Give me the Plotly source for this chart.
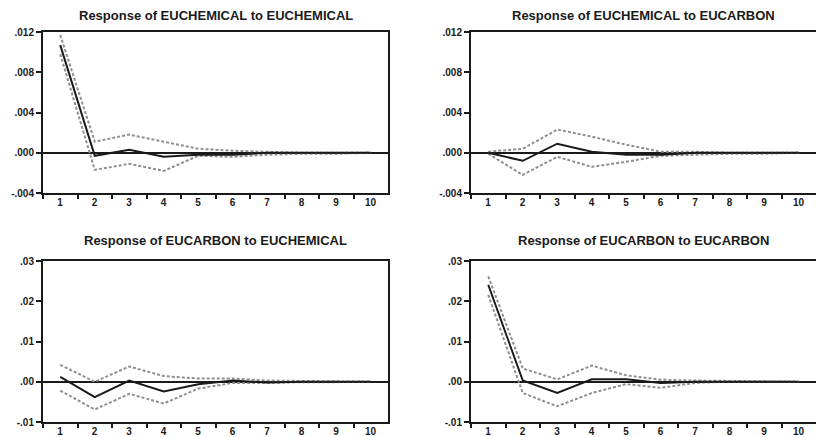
import plotly.graph_objects as go

periods = [1, 2, 3, 4, 5, 6, 7, 8, 9, 10]
period_labels = ["1", "2", "3", "4", "5", "6", "7", "8", "9", "10"]

titles = [
    "Response of EUCHEMICAL to EUCHEMICAL",
    "Response of EUCHEMICAL to EUCARBON",
    "Response of EUCARBON to EUCHEMICAL",
    "Response of EUCARBON to EUCARBON",
]

# Panel 1: EUCHEMICAL to EUCHEMICAL
chem_chem = [0.0107, -0.0003, 0.0003, -0.0004, -0.0002, -0.0002, 0.0000, 0.0000, 0.0000, 0.0000]
chem_chem_up = [0.0117, 0.0011, 0.0018, 0.0011, 0.0004, 0.0002, 0.0001, 0.0000, 0.0000, 0.0000]
chem_chem_lo = [0.0098, -0.0017, -0.0011, -0.0018, -0.0003, -0.0004, -0.0002, -0.0001, -0.0001, 0.0000]

# Panel 2: EUCHEMICAL to EUCARBON
chem_carb = [0.0000, -0.0008, 0.0009, 0.0001, -0.0002, -0.0002, 0.0000, 0.0000, 0.0000, 0.0000]
chem_carb_up = [0.0001, 0.0004, 0.0023, 0.0016, 0.0008, 0.0001, 0.0001, 0.0000, 0.0000, 0.0000]
chem_carb_lo = [-0.0001, -0.0022, -0.0004, -0.0014, -0.0009, -0.0003, -0.0002, -0.0001, -0.0001, 0.0000]

# Panel 3: EUCARBON to EUCHEMICAL
carb_chem = [0.0012, -0.0038, 0.0003, -0.0024, -0.0006, 0.0003, -0.0002, 0.0000, 0.0000, 0.0000]
carb_chem_up = [0.0042, 0.0000, 0.0038, 0.0014, 0.0008, 0.0008, 0.0003, 0.0002, 0.0002, 0.0000]
carb_chem_lo = [-0.0022, -0.0069, -0.0030, -0.0054, -0.0017, -0.0003, -0.0003, -0.0001, -0.0001, 0.0000]

# Panel 4: EUCARBON to EUCARBON
carb_carb = [0.0241, 0.0003, -0.0028, 0.0006, 0.0006, -0.0003, 0.0000, 0.0000, 0.0000, 0.0000]
carb_carb_up = [0.0262, 0.0033, 0.0006, 0.0040, 0.0016, 0.0005, 0.0003, 0.0002, 0.0002, 0.0000]
carb_carb_lo = [0.0216, -0.0028, -0.0061, -0.0028, -0.0006, -0.0015, -0.0003, 0.0000, 0.0000, 0.0000]

top_ticks = [-0.004, 0.000, 0.004, 0.008, 0.012]
top_tick_labels = ["-.004", ".000", ".004", ".008", ".012"]
bot_ticks = [-0.01, 0.00, 0.01, 0.02, 0.03]
bot_tick_labels = ["-.01", ".00", ".01", ".02", ".03"]

W, H = 816, 437
fig = go.Figure()

panels = [
    (chem_chem, chem_chem_up, chem_chem_lo, top_ticks, top_tick_labels),
    (chem_carb, chem_carb_up, chem_carb_lo, top_ticks, top_tick_labels),
    (carb_chem, carb_chem_up, carb_chem_lo, bot_ticks, bot_tick_labels),
    (carb_carb, carb_carb_up, carb_carb_lo, bot_ticks, bot_tick_labels),
]

# pixel boxes (left, right, top, bottom)
boxes = [(43, 388, 32, 193), (471, 816, 32, 193), (43, 388, 261, 422), (471, 816, 261, 422)]
title_y = [15, 15, 240, 240]

tick_font = dict(family="Liberation Sans, Arial", size=10, color="#1a1a1a", weight="bold")
unit_px = (388 - 43) / 10.0

for i, (resp, up, lo, yt, ytl) in enumerate(panels):
    n = i + 1
    xa = "x" if n == 1 else f"x{n}"
    ya = "y" if n == 1 else f"y{n}"
    for series, col, w, dash in [(up, "#8f8f8f", 2, "3px,2px"), (lo, "#8f8f8f", 2, "3px,2px"), (resp, "#1a1a1a", 2, "solid")]:
        fig.add_trace(go.Scatter(x=periods, y=series, mode="lines", xaxis=xa, yaxis=ya,
                                 line=dict(color=col, width=w, dash=dash), showlegend=False,
                                 hoverinfo="skip", cliponaxis=False))
    l, r, t, b = boxes[i]
    xdom = [l / W, min(r / W, 1.0)]
    ydom = [(H - b) / H, (H - t) / H]
    xkey = "xaxis" if n == 1 else f"xaxis{n}"
    ykey = "yaxis" if n == 1 else f"yaxis{n}"
    fig.layout[xkey] = dict(
        domain=xdom, anchor=ya, range=[0.5, 10.5], automargin=False,
        tickmode="array", tickvals=[p - 0.5 for p in periods], ticktext=period_labels,
        ticklabelshift=int(round(unit_px / 2)), ticklabelstandoff=-5,
        ticks="outside", ticklen=4, tickwidth=2, tickcolor="#1a1a1a",
        showline=True, linewidth=2, linecolor="#1a1a1a", mirror=True,
        showgrid=False, zeroline=False, tickfont=tick_font, fixedrange=True,
    )
    fig.layout[ykey] = dict(
        domain=ydom, anchor=xa, range=[yt[0], yt[-1]], automargin=False,
        tickmode="array", tickvals=yt, ticktext=ytl,
        ticks="outside", ticklen=5, tickwidth=2, tickcolor="#1a1a1a",
        showline=True, linewidth=2, linecolor="#1a1a1a", mirror=True,
        showgrid=False, zeroline=True, zerolinecolor="#1a1a1a", zerolinewidth=2,
        tickfont=tick_font, fixedrange=True,
    )
    fig.add_annotation(text=titles[i], xref="paper", yref="paper",
                       x=((l + r) / 2) / W, y=(H - title_y[i]) / H,
                       xanchor="center", yanchor="middle", showarrow=False,
                       font=dict(family="Liberation Sans, Arial", size=13, color="#1a1a1a", weight="bold"))

fig.update_layout(width=W, height=H, margin=dict(l=0, r=0, t=0, b=0, pad=0, autoexpand=False),
                  paper_bgcolor="white", plot_bgcolor="white")

fig.write_html("out.html", config={"displayModeBar": False},
               post_script="document.body.style.margin='0';document.body.style.overflow='hidden';")
